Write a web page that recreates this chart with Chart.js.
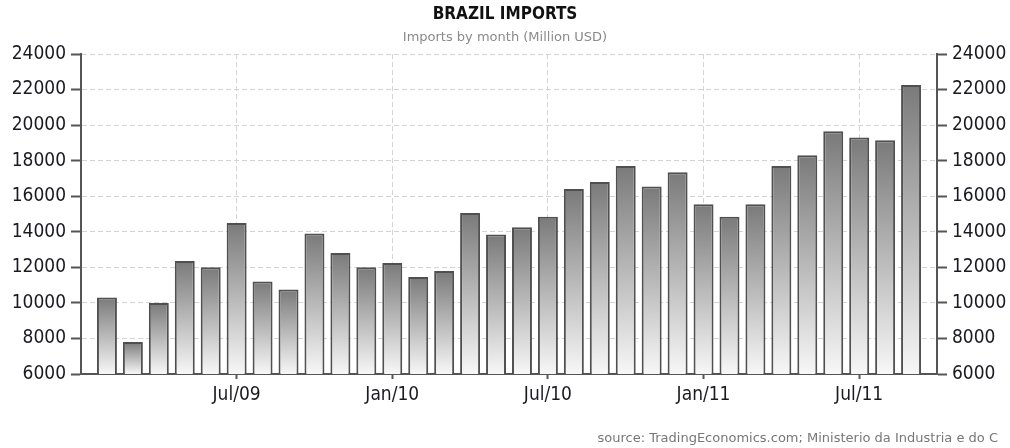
<!DOCTYPE html>
<html>
<head>
<meta charset="utf-8">
<script src="https://cdn.jsdelivr.net/npm/chart.js@4"></script>
<style>
    body { margin: 0; background: #fff; }
    #wrap { position: relative; width: 1010px; height: 448px; }
    #source {
        position: absolute; right: 12px; bottom: 3px;
        font: 13px 'DejaVu Sans', sans-serif;
        color: #777;
    }
</style>
</head>
<body>
<div id="wrap">
    <canvas id="imports_chart"></canvas>
    <div id="source">source: TradingEconomics.com; Ministerio da Industria e do C</div>
</div>
<script>
// one empty month on each side, like the original plot's margins
const months = [
    'Jan/09', 'Feb/09', 'Mar/09', 'Apr/09', 'May/09', 'Jun/09', 'Jul/09', 'Aug/09', 'Sep/09', 'Oct/09', 'Nov/09', 'Dec/09',
    'Jan/10', 'Feb/10', 'Mar/10', 'Apr/10', 'May/10', 'Jun/10', 'Jul/10', 'Aug/10', 'Sep/10', 'Oct/10', 'Nov/10', 'Dec/10',
    'Jan/11', 'Feb/11', 'Mar/11', 'Apr/11', 'May/11', 'Jun/11', 'Jul/11', 'Aug/11', 'Sep/11', 'Oct/11'
];

const imports = [
    null, 10300, 7800, 10000, 12350, 12000, 14500, 11200, 10750, 13900, 12800, 12000,
    12250, 11450, 11800, 15050, 13850, 14250, 14850, 16400, 16800, 17700, 16550, 17350,
    15550, 14850, 15550, 17700, 18300, 19650, 19300, 19150, 22250, null
];

const tickLabels = ['Jul/09', 'Jan/10', 'Jul/10', 'Jan/11', 'Jul/11'];
const yTicks = [6000, 8000, 10000, 12000, 14000, 16000, 18000, 20000, 22000, 24000];

const FONT = "'DejaVu Sans Condensed', 'DejaVu Sans', sans-serif";

function isLabelled(index) {
    return tickLabels.includes(months[index]);
}

function barGradient(ctx) {
    const chart = ctx.chart;
    const area = chart.chartArea;
    if (!area || ctx.type !== 'data' || ctx.raw == null) return 'rgba(0,0,0,0)';
    const top = chart.scales.y.getPixelForValue(ctx.raw);
    const g = chart.ctx.createLinearGradient(0, top, 0, area.bottom);
    g.addColorStop(0, '#7a7a7a');
    g.addColorStop(1, '#f7f7f7');
    return g;
}

const yAxisBase = {
    min: yTicks[0],
    max: yTicks[yTicks.length - 1],
    border: { color: '#555', width: 2, dash: [5, 3] },
    ticks: {
        stepSize: 2000,
        padding: 5,
        color: '#1a1a22',
        font: { family: FONT, size: 19 },
        callback: value => String(value)
    }
};

new Chart(document.getElementById('imports_chart'), {
    type: 'bar',
    data: {
        labels: months,
        datasets: [{
            label: 'Imports',
            data: imports,
            backgroundColor: barGradient,
            borderColor: '#505050',
            borderWidth: 2,
            borderSkipped: false,
            barPercentage: 1,
            categoryPercentage: 0.77
        }]
    },
    options: {
        responsive: true,
        maintainAspectRatio: false,
        animation: false,
        layout: { padding: { bottom: 44 } },
        plugins: {
            legend: { display: false },
            tooltip: { enabled: false },
            title: {
                display: true,
                text: 'BRAZIL IMPORTS',
                color: '#111',
                font: { family: FONT, size: 17, weight: 'bold' },
                padding: { top: 4, bottom: 3 }
            },
            subtitle: {
                display: true,
                text: 'Imports by month (Million USD)',
                color: '#8a8a8a',
                font: { family: "'DejaVu Sans', sans-serif", size: 13 },
                padding: { top: 2, bottom: 9 }
            }
        },
        scales: {
            x: {
                offset: false,
                border: { color: '#555', width: 2, dash: [5, 3] },
                grid: {
                    offset: false,
                    color: c => isLabelled(c.index) ? '#d4d4d4' : 'rgba(0,0,0,0)',
                    tickColor: c => isLabelled(c.index) ? '#555' : 'rgba(0,0,0,0)',
                    tickLength: 5,
                    tickWidth: 2
                },
                ticks: {
                    autoSkip: false,
                    maxRotation: 0,
                    padding: 5,
                    color: '#1a1a22',
                    font: { family: FONT, size: 19 },
                    callback: function(value, index) {
                        return isLabelled(index) ? months[index] : '';
                    }
                },
                afterFit: scale => { scale.height = 30; }
            },
            y: Object.assign({}, yAxisBase, {
                position: 'left',
                grid: { color: '#d4d4d4', tickColor: '#555', tickLength: 10, tickWidth: 2 },
                afterFit: scale => { scale.width = 81; }
            }),
            y2: Object.assign({}, yAxisBase, {
                position: 'right',
                grid: { drawOnChartArea: false, tickColor: '#555', tickLength: 10, tickWidth: 2 },
                afterFit: scale => { scale.width = 73; }
            })
        }
    }
});
</script>
</body>
</html>
